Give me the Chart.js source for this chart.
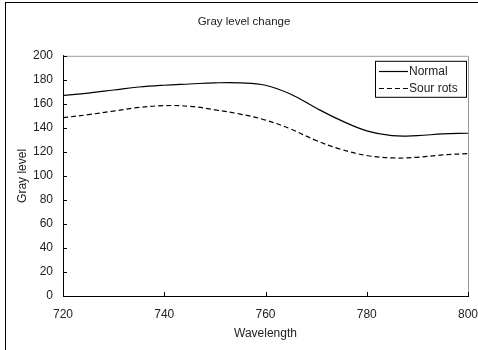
<!DOCTYPE html>
<html>
<head>
<meta charset="utf-8">
<script src="https://cdn.jsdelivr.net/npm/chart.js@4"></script>
<style>
  body { margin: 0; background: #fff; overflow: hidden; }
  #frame { position: absolute; left: 5px; top: 2px; width: 600px; height: 400px;
           border-top: 1px solid #000; border-left: 1px solid #000; }
  #wrap { position: absolute; left: 0; top: 0; width: 478px; height: 350px; }
</style>
</head>
<body>
<div id="frame"></div>
<div id="wrap"><canvas id="gray_chart"></canvas></div>
<script>
var wavelengths = [720, 725, 730, 735, 740, 745, 750, 755, 760, 765, 770, 775, 780, 785, 790, 795, 800];
var normal = [167, 169, 171.5, 174, 175.5, 176.5, 177.5, 177.5, 175.5, 168, 156.5, 146, 137.5, 133.5, 133.5, 135, 135.5];
var sour_rots = [148.5, 151, 154, 157, 158.5, 158, 155, 151.5, 146.5, 139, 129.5, 122, 117, 115, 115.5, 117.5, 118.5];
var x_ticks = [720, 740, 760, 780, 800];
var y_ticks = [0, 20, 40, 60, 80, 100, 120, 140, 160, 180, 200];

var fontFamily = "'Liberation Sans', Arial, sans-serif";

function points(ys) {
  return wavelengths.map(function (x, i) { return {x: x, y: ys[i]}; });
}

// inward ticks, gray top/right frame and the boxed legend
var framePlugin = {
  id: 'frame',
  afterDraw: function (chart) {
    var ctx = chart.ctx;
    var a = chart.chartArea;
    var xs = chart.scales.x, ys = chart.scales.y;
    ctx.save();
    ctx.strokeStyle = '#999';
    ctx.lineWidth = 1;
    ctx.beginPath();
    ctx.moveTo(a.left, a.top + 0.5);
    ctx.lineTo(a.right + 0.5, a.top + 0.5);
    ctx.lineTo(a.right + 0.5, a.bottom);
    ctx.stroke();

    ctx.strokeStyle = '#000';
    ctx.beginPath();
    y_ticks.forEach(function (v) {
      var py = Math.round(ys.getPixelForValue(v)) + 0.5;
      ctx.moveTo(a.left, py);
      ctx.lineTo(a.left + 4, py);
    });
    x_ticks.forEach(function (v) {
      var px = Math.round(xs.getPixelForValue(v)) + 0.5;
      ctx.moveTo(px, a.bottom);
      ctx.lineTo(px, a.bottom - 4);
    });
    ctx.stroke();

    // legend
    var bx = a.right - 93, by = a.top + 5, bw = 91, bh = 36;
    ctx.lineWidth = 1;
    ctx.strokeRect(bx + 0.5, by + 0.5, bw, bh);
    ctx.font = '12px ' + fontFamily;
    ctx.fillStyle = '#222';
    ctx.textBaseline = 'middle';
    chart.data.datasets.forEach(function (ds, i) {
      var ly = Math.round(by + 10 + i * 17) + 0.5;
      ctx.setLineDash(ds.borderDash || []);
      ctx.lineWidth = ds.borderWidth;
      ctx.beginPath();
      ctx.moveTo(bx + 4, ly);
      ctx.lineTo(bx + 33, ly);
      ctx.stroke();
      ctx.setLineDash([]);
      ctx.fillText(ds.label, bx + 34, ly);
    });
    ctx.restore();
  }
};

var ctx = document.getElementById('gray_chart');
var myChart = new Chart(ctx, {
  type: 'line',
  plugins: [framePlugin],
  data: {
    datasets: [{
      label: 'Normal',
      data: points(normal),
      borderColor: '#000',
      borderWidth: 1.2,
      pointRadius: 0,
      tension: 0.4,
      fill: false
    }, {
      label: 'Sour rots',
      data: points(sour_rots),
      borderColor: '#000',
      borderWidth: 1.2,
      borderDash: [5, 3],
      pointRadius: 0,
      tension: 0.4,
      fill: false
    }]
  },
  options: {
    responsive: true,
    maintainAspectRatio: false,
    animation: false,
    layout: { padding: { left: 10, right: 0, top: 0, bottom: 0 } },
    plugins: {
      legend: { display: false },
      tooltip: { enabled: false },
      title: {
        display: true,
        text: 'Gray level change',
        color: '#222',
        font: { family: fontFamily, size: 11.5, weight: 'normal' },
        padding: { top: 15, bottom: 27 }
      }
    },
    scales: {
      x: {
        type: 'linear',
        min: 720,
        max: 800,
        afterFit: function (scale) {
          scale.height = 54;
          scale.paddingLeft = 0;
          scale.paddingRight = 10;
        },
        afterBuildTicks: function (scale) {
          scale.ticks = x_ticks.map(function (v) { return {value: v}; });
        },
        grid: { display: false, drawTicks: false },
        border: { display: true, color: '#000', width: 1 },
        ticks: { color: '#222', padding: 11, maxRotation: 0,
                 font: { family: fontFamily, size: 12 } },
        title: {
          display: true,
          text: 'Wavelength',
          color: '#222',
          font: { family: fontFamily, size: 12 },
          padding: { top: 0, bottom: 9 }
        }
      },
      y: {
        min: 0,
        max: 200,
        afterFit: function (scale) { scale.width = 53; },
        afterBuildTicks: function (scale) {
          scale.ticks = y_ticks.map(function (v) { return {value: v}; });
        },
        grid: { display: false, drawTicks: false },
        border: { display: true, color: '#000', width: 1 },
        ticks: { color: '#222', padding: 10,
                 font: { family: fontFamily, size: 12 } },
        title: {
          display: true,
          text: 'Gray level',
          color: '#222',
          font: { family: fontFamily, size: 12 },
          padding: { top: 5, bottom: 0 }
        }
      }
    }
  }
});
</script>
</body>
</html>
